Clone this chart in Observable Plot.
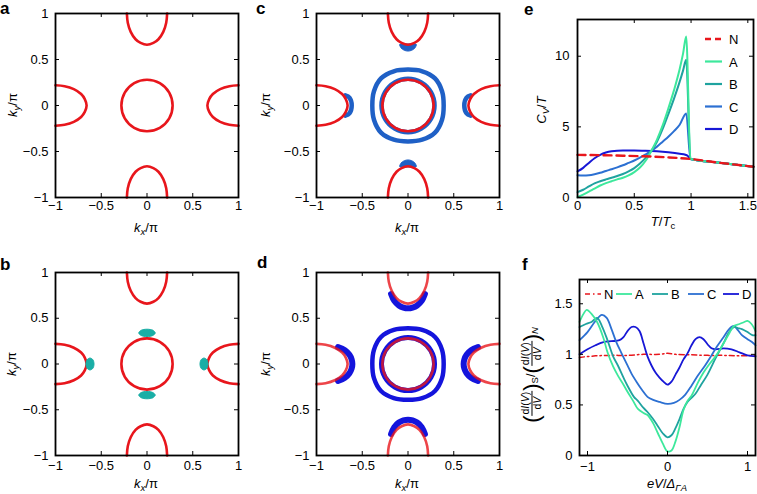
<!DOCTYPE html>
<html><head><meta charset="utf-8">
<script src="https://cdn.jsdelivr.net/npm/d3@7"></script>
<script src="https://cdn.jsdelivr.net/npm/@observablehq/plot@0.6"></script>
<style>
body{margin:0;background:#fff;}
#fig{position:relative;width:757px;height:494px;font-family:"Liberation Sans",Arial,Helvetica,sans-serif;color:#000;overflow:hidden;background:#fff;}
.lbl{position:absolute;font-size:13px;white-space:nowrap;line-height:1;transform:translate(-50%,-50%);}
.rot{transform:translate(-50%,-50%) rotate(-90deg);}
.lbl sub{font-size:9.5px;vertical-align:-3px;line-height:0;}
.tag{position:absolute;font-weight:bold;font-size:17px;line-height:17px;}
.leg{position:absolute;font-size:13px;line-height:1;transform:translateY(-50%);}
.frac{display:inline-flex;flex-direction:column;align-items:center;vertical-align:middle;font-size:10.5px;line-height:1.05;}
.frac span:first-child{border-bottom:1px solid #000;padding:0 1px;}
.par{font-size:22px;vertical-align:middle;font-weight:300;}
</style></head><body><div id="fig"></div>
<script>
// ---------- data: Fermi-surface contours (kx/π, ky/π) ----------
const gammaFS = [[0.28,0],[0.243,0.14],[0.14,0.243],[0,0.28],[-0.14,0.243],[-0.243,0.14],[-0.28,0],[-0.243,-0.14],[-0.14,-0.243],[0,-0.28],[0.14,-0.243],[0.243,-0.14]];
const xPocketFS = [[1,0.22],[0.9,0.21],[0.8,0.178],[0.72,0.125],[0.68,0.07],[0.66,0],[0.68,-0.07],[0.72,-0.125],[0.8,-0.178],[0.9,-0.21],[1,-0.22]];
const outerFS = [[0.39,0],[0.372,0.155],[0.295,0.295],[0.155,0.372],[0,0.39],[-0.155,0.372],[-0.295,0.295],[-0.372,0.155],[-0.39,0],[-0.372,-0.155],[-0.295,-0.295],[-0.155,-0.372],[0,-0.39],[0.155,-0.372],[0.295,-0.295],[0.372,-0.155]];
const innerRingFS = [[0.29,0],[0.251,0.145],[0.145,0.251],[0,0.29],[-0.145,0.251],[-0.251,0.145],[-0.29,0],[-0.251,-0.145],[-0.145,-0.251],[0,-0.29],[0.145,-0.251],[0.251,-0.145]];
const blobB_gamma = [[0.09,0.34],[0.064,0.368],[0,0.38],[-0.064,0.368],[-0.09,0.34],[-0.064,0.312],[0,0.30],[0.064,0.312]];
const blobB_x = [[0.667,0],[0.655,0.046],[0.623,0.065],[0.591,0.046],[0.579,0],[0.591,-0.046],[0.623,-0.065],[0.655,-0.046]];
const crescentC_x = [[0.685,0.11],[0.64,0.085],[0.615,0],[0.64,-0.085],[0.685,-0.11]];
const blobC_y = [[-0.09,0.665],[-0.075,0.625],[-0.04,0.6],[0,0.592],[0.04,0.6],[0.075,0.625],[0.09,0.665],[0.04,0.668],[-0.04,0.668]];
const capD_y = [[-0.185,0.765],[-0.15,0.69],[-0.1,0.64],[-0.05,0.616],[0,0.608],[0.05,0.616],[0.1,0.64],[0.15,0.69],[0.185,0.765]];

// ---------- data: panel e (C_V/T vs T/Tc) ----------
const eNormal = [[0,3.02],[0.4,2.96],[0.8,2.84],[1.0,2.72],[1.25,2.46],[1.55,2.18]];
const eA = [[0,0.02],[0.05,0.2],[0.1,0.42],[0.15,0.63],[0.2,0.85],[0.25,1.02],[0.3,1.15],[0.35,1.28],[0.4,1.4],[0.45,1.57],[0.5,1.8],[0.55,2.12],[0.6,2.6],[0.65,3.3],[0.7,4.1],[0.75,5.1],[0.8,6.3],[0.85,7.6],[0.9,9.1],[0.93,10.2],[0.957,11.4],[0.995,2.72]];
const eB = [[0,0.38],[0.05,0.55],[0.1,0.78],[0.15,1.0],[0.2,1.15],[0.25,1.28],[0.3,1.4],[0.35,1.52],[0.4,1.66],[0.45,1.85],[0.5,2.08],[0.55,2.4],[0.6,2.8],[0.65,3.3],[0.7,3.95],[0.75,4.85],[0.8,5.9],[0.85,7.0],[0.9,8.2],[0.93,9.0],[0.957,9.75],[0.995,2.72]];
const eC = [[0,1.58],[0.05,1.56],[0.1,1.58],[0.15,1.65],[0.2,1.75],[0.25,1.88],[0.3,2.0],[0.35,2.13],[0.4,2.28],[0.45,2.45],[0.5,2.62],[0.55,2.82],[0.6,3.05],[0.65,3.3],[0.7,3.6],[0.75,3.95],[0.8,4.3],[0.85,4.7],[0.9,5.15],[0.957,5.95],[0.995,2.72]];
const eD = [[0,1.85],[0.05,2.1],[0.1,2.45],[0.15,2.78],[0.2,3.02],[0.25,3.18],[0.3,3.27],[0.4,3.33],[0.5,3.33],[0.6,3.31],[0.7,3.27],[0.8,3.2],[0.9,3.1],[0.95,3.03],[0.97,2.95],[0.995,2.72]];

// ---------- data: panel f (normalized dI/dV vs eV/Δ) ----------
const fN = [[-1.1,0.97],[-0.9,0.985],[-0.7,0.99],[-0.5,0.99],[-0.3,1.0],[-0.1,1.0],[0,1.01],[0.1,1.0],[0.3,0.995],[0.5,0.99],[0.7,0.99],[0.9,0.985],[1.1,0.99]];
const fA = [[-1.1,1.32],[-1.05,1.4],[-1.01,1.44],[-0.95,1.4],[-0.88,1.32],[-0.8,1.16],[-0.75,1.02],[-0.68,0.88],[-0.62,0.79],[-0.55,0.7],[-0.5,0.63],[-0.43,0.54],[-0.37,0.46],[-0.3,0.42],[-0.25,0.4],[-0.18,0.32],[-0.12,0.22],[-0.06,0.12],[0,0.04],[0.05,0.05],[0.1,0.14],[0.15,0.28],[0.2,0.45],[0.25,0.54],[0.3,0.59],[0.38,0.72],[0.45,0.82],[0.52,0.9],[0.6,0.98],[0.68,1.08],[0.76,1.19],[0.83,1.28],[0.9,1.3],[0.96,1.32],[1.0,1.33],[1.05,1.3],[1.1,1.23]];
const fB = [[-1.1,1.27],[-1.02,1.3],[-0.95,1.32],[-0.88,1.36],[-0.82,1.28],[-0.75,1.14],[-0.68,0.98],[-0.62,0.89],[-0.55,0.77],[-0.5,0.69],[-0.42,0.58],[-0.37,0.54],[-0.3,0.47],[-0.25,0.43],[-0.18,0.36],[-0.12,0.29],[-0.06,0.22],[0,0.18],[0.05,0.2],[0.1,0.27],[0.15,0.36],[0.2,0.46],[0.25,0.53],[0.3,0.57],[0.35,0.61],[0.42,0.7],[0.5,0.8],[0.6,0.96],[0.7,1.11],[0.77,1.22],[0.83,1.27],[0.88,1.26],[0.93,1.25],[1.0,1.22],[1.06,1.19],[1.1,1.19]];
const fC = [[-1.1,1.14],[-1.0,1.22],[-0.9,1.33],[-0.82,1.39],[-0.76,1.36],[-0.7,1.25],[-0.64,1.12],[-0.58,1.02],[-0.5,0.89],[-0.45,0.81],[-0.38,0.72],[-0.32,0.65],[-0.25,0.58],[-0.18,0.55],[-0.1,0.53],[0,0.51],[0.08,0.52],[0.15,0.55],[0.22,0.6],[0.3,0.69],[0.38,0.79],[0.47,0.89],[0.55,0.99],[0.62,1.08],[0.7,1.17],[0.77,1.25],[0.83,1.28],[0.88,1.24],[0.93,1.19],[1.0,1.15],[1.06,1.12],[1.1,1.09]];
const fD = [[-1.1,1.0],[-1.0,1.05],[-0.9,1.09],[-0.8,1.12],[-0.7,1.13],[-0.6,1.14],[-0.55,1.17],[-0.5,1.23],[-0.45,1.27],[-0.4,1.27],[-0.35,1.23],[-0.3,1.11],[-0.25,0.98],[-0.2,0.89],[-0.15,0.82],[-0.1,0.77],[-0.05,0.73],[0,0.7],[0.05,0.73],[0.1,0.8],[0.15,0.87],[0.2,0.95],[0.25,1.01],[0.3,1.09],[0.35,1.15],[0.4,1.17],[0.45,1.15],[0.5,1.1],[0.55,1.06],[0.6,1.05],[0.7,1.06],[0.8,1.05],[0.9,1.02],[1.0,0.99],[1.1,0.98]];

// ---------- ticks ----------
const kTicks = [-1,-0.5,0,0.5,1];
const eXTicks = [0,0.5,1,1.5], eYTicks = [0,5,10];
const fXTicks = [-1,0,1], fYTicks = [0,0.5,1,1.5];
const seriesNames = ["N","A","B","C","D"];

// ---------- styles ----------
const FONT = '"Liberation Sans", Arial, Helvetica, sans-serif';
const RED = "#e8161c";
const COLORS = {N: RED, A: "#3de89c", B: "#1fa39f", C: "#2c70d2", D: "#1717d6"};
const FS_B = "#1aaea6", FS_C = "#1f60c6", FS_D = "#1414dc";
const fig = document.getElementById("fig");
const fmt = d3.format("");

const sym = {
  right: p => p, left: p => p.map(([a,b]) => [-a,b]),
  top: p => p.map(([a,b]) => [b,a]), bottom: p => p.map(([a,b]) => [b,-a])
};
const X = d => d[0], Y = d => d[1];

function place(el, left, top) {
  el.style.position = "absolute"; el.style.left = left + "px"; el.style.top = top + "px";
  fig.appendChild(el);
}

function panel({frame, xDomain, yDomain, xTicks, yTicks, xPad, yPad, marks}) {
  const [fx0, fx1, fy0, fy1] = frame;
  const iw = fx1 - fx0, ih = fy1 - fy0;
  const ml = 45, mr = 14, mt = 10, mb = 26;
  const svg = Plot.plot({
    width: iw + ml + mr, height: ih + mt + mb,
    marginLeft: ml, marginRight: mr, marginTop: mt, marginBottom: mb,
    style: {fontFamily: FONT, fontSize: "13px", background: "none", color: "#000", overflow: "visible", maxWidth: "none"},
    x: {domain: xDomain, ticks: xTicks, tickSize: 0, tickPadding: xPad, tickFormat: fmt, label: null},
    y: {domain: yDomain, ticks: yTicks, tickSize: 0, tickPadding: yPad, tickFormat: fmt, label: null},
    marks: [
      ...marks,
      Plot.tickX(xTicks, {x: d => d, insetTop: ih - 4, stroke: "#000", strokeWidth: 1}),
      Plot.tickX(xTicks, {x: d => d, insetBottom: ih - 4, stroke: "#000", strokeWidth: 1}),
      Plot.tickY(yTicks, {y: d => d, insetRight: iw - 4, stroke: "#000", strokeWidth: 1}),
      Plot.tickY(yTicks, {y: d => d, insetLeft: iw - 4, stroke: "#000", strokeWidth: 1}),
      Plot.frame({stroke: "#000", strokeWidth: 1.8})
    ]
  });
  place(svg, fx0 - ml, fy0 - mt);
}

function redFS(opacity = 1) {
  const o = {x: X, y: Y, stroke: RED, strokeWidth: 2.6, strokeOpacity: opacity};
  return [
    Plot.line(gammaFS, {...o, curve: "catmull-rom-closed"}),
    ...["right","left","top","bottom"].map(s => Plot.line(sym[s](xPocketFS), {...o, curve: "catmull-rom"}))
  ];
}

// panel a
panel({frame: [55,238,13,197], xDomain: [-1,1], yDomain: [-1,1], xTicks: kTicks, yTicks: kTicks, xPad: 3, yPad: 7,
  marks: redFS()});

// panel b
panel({frame: [55,238,272,455], xDomain: [-1,1], yDomain: [-1,1], xTicks: kTicks, yTicks: kTicks, xPad: 5, yPad: 7,
  marks: [
    ...redFS(),
    ...[blobB_gamma, blobB_gamma.map(([a,b]) => [a,-b]), blobB_x, blobB_x.map(([a,b]) => [-a,b])].map(p =>
      Plot.line(p, {x: X, y: Y, curve: "catmull-rom-closed", fill: FS_B, stroke: FS_B, strokeWidth: 1}))
  ]});

// panel c
panel({frame: [316,499,13,197], xDomain: [-1,1], yDomain: [-1,1], xTicks: kTicks, yTicks: kTicks, xPad: 3, yPad: 7,
  marks: [
    Plot.line(outerFS, {x: X, y: Y, curve: "catmull-rom-closed", stroke: FS_C, strokeWidth: 4.5}),
    Plot.line(innerRingFS, {x: X, y: Y, curve: "catmull-rom-closed", stroke: FS_C, strokeWidth: 4.5}),
    ...[sym.right(crescentC_x), sym.left(crescentC_x)].map(p =>
      Plot.line(p, {x: X, y: Y, curve: "catmull-rom", stroke: FS_C, strokeWidth: 4.5})),
    ...[blobC_y, blobC_y.map(([a,b]) => [a,-b])].map(p =>
      Plot.line(p, {x: X, y: Y, curve: "catmull-rom-closed", fill: FS_C, stroke: FS_C, strokeWidth: 1})),
    ...redFS()
  ]});

// panel d
panel({frame: [316,499,272,455], xDomain: [-1,1], yDomain: [-1,1], xTicks: kTicks, yTicks: kTicks, xPad: 5, yPad: 7,
  marks: [
    Plot.line(outerFS, {x: X, y: Y, curve: "catmull-rom-closed", stroke: FS_D, strokeWidth: 4.5}),
    Plot.line(innerRingFS, {x: X, y: Y, curve: "catmull-rom-closed", stroke: FS_D, strokeWidth: 5}),
    ...[capD_y, capD_y.map(([a,b]) => [a,-b]), capD_y.map(([a,b]) => [b,a]), capD_y.map(([a,b]) => [-b,a])].map(p =>
      Plot.line(p, {x: X, y: Y, curve: "catmull-rom", stroke: FS_D, strokeWidth: 6})),
    ...redFS(0.8)
  ]});

// panel e
const eTail = eNormal.filter(d => d[0] > 1);
const eSeries = {A: eA, B: eB, C: eC, D: eD};
panel({frame: [577,753,19,197], xDomain: [0,1.55], yDomain: [0,12.6], xTicks: eXTicks, yTicks: eYTicks, xPad: 3, yPad: 8,
  marks: [
    ...["D","C","B","A"].map(k => Plot.line(eSeries[k].concat(eTail), {x: X, y: Y, curve: "monotone-x", stroke: COLORS[k], strokeWidth: 2})),
    Plot.line(eNormal, {x: X, y: Y, curve: "monotone-x", stroke: RED, strokeWidth: 2.4, strokeDasharray: "8,5"})
  ]});

// panel f
const fSeries = {A: fA, B: fB, C: fC, D: fD};
panel({frame: [579,755,279,455], xDomain: [-1.1,1.1], yDomain: [0,1.74], xTicks: fXTicks, yTicks: fYTicks, xPad: 6, yPad: 7,
  marks: [
    Plot.line(fN, {x: X, y: Y, curve: "catmull-rom", stroke: RED, strokeWidth: 1.5, strokeDasharray: "5,3,1.5,3"}),
    ...["D","C","B","A"].map(k => Plot.line(fSeries[k], {x: X, y: Y, curve: "catmull-rom", stroke: COLORS[k], strokeWidth: 1.8}))
  ]});

// ---------- text ----------
function html(tagCls, x, y, inner) {
  const d = document.createElement("div"); d.className = tagCls; d.innerHTML = inner;
  d.style.left = x + "px"; d.style.top = y + "px"; fig.appendChild(d); return d;
}
const kx = '<i>k</i><sub><i>x</i></sub>/π', ky = '<i>k</i><sub><i>y</i></sub>/π';
html("lbl", 146, 227, kx); html("lbl rot", 12, 105, ky);
html("lbl", 146, 483, kx); html("lbl rot", 11, 364, ky);
html("lbl", 407, 227, kx); html("lbl rot", 265, 105, ky);
html("lbl", 407, 483, kx); html("lbl rot", 265, 364, ky);
html("lbl", 663, 221, '<i>T</i>/<i>T</i><sub>c</sub>');
html("lbl rot", 541, 110, '<i>C</i><sub><i>V</i></sub>/<i>T</i>');
html("lbl", 667, 483, '<i>eV</i>/<i>Δ</i><sub><i>ΓA</i></sub>');
const fr = '<span class="frac"><span>d<i>I</i>(<i>V</i>)</span><span>d<i>V</i></span></span>';
html("lbl rot", 532, 375, '<span class="par">(</span>' + fr + '<span class="par">)</span><sub>S</sub>/<span class="par">(</span>' + fr + '<span class="par">)</span><sub><i>N</i></sub>');

html("tag", 0, 0, "a"); html("tag", 256, 0, "c"); html("tag", 524, 1, "e");
html("tag", 0, 256, "b"); html("tag", 257, 254, "d"); html("tag", 522, 256, "f");

// ---------- legends ----------
const NS = "http://www.w3.org/2000/svg";
const legSvg = document.createElementNS(NS, "svg");
legSvg.setAttribute("width", 757); legSvg.setAttribute("height", 494);
legSvg.style.position = "absolute"; legSvg.style.left = "0px"; legSvg.style.top = "0px"; legSvg.style.pointerEvents = "none";
fig.appendChild(legSvg);
function seg(x1, x2, y, color, width, dash) {
  const l = document.createElementNS(NS, "line");
  l.setAttribute("x1", x1); l.setAttribute("x2", x2); l.setAttribute("y1", y); l.setAttribute("y2", y);
  l.setAttribute("stroke", color); l.setAttribute("stroke-width", width);
  if (dash) l.setAttribute("stroke-dasharray", dash);
  legSvg.appendChild(l);
}
seriesNames.forEach((k, i) => {
  const y = 39 + i * 22.5;
  seg(705, 722, y, COLORS[k], k === "N" ? 2.4 : 2.2, k === "N" ? "6,4" : null);
  html("leg", 729, y, k);
});
const fLegX = [585, 616, 652, 688, 723];
seriesNames.forEach((k, i) => {
  const x = fLegX[i];
  seg(x, x + 16, 294, COLORS[k], k === "N" ? 1.5 : 1.8, k === "N" ? "5,3,1.5,3" : null);
  html("leg", x + 19, 294, k);
});
</script></body></html>
